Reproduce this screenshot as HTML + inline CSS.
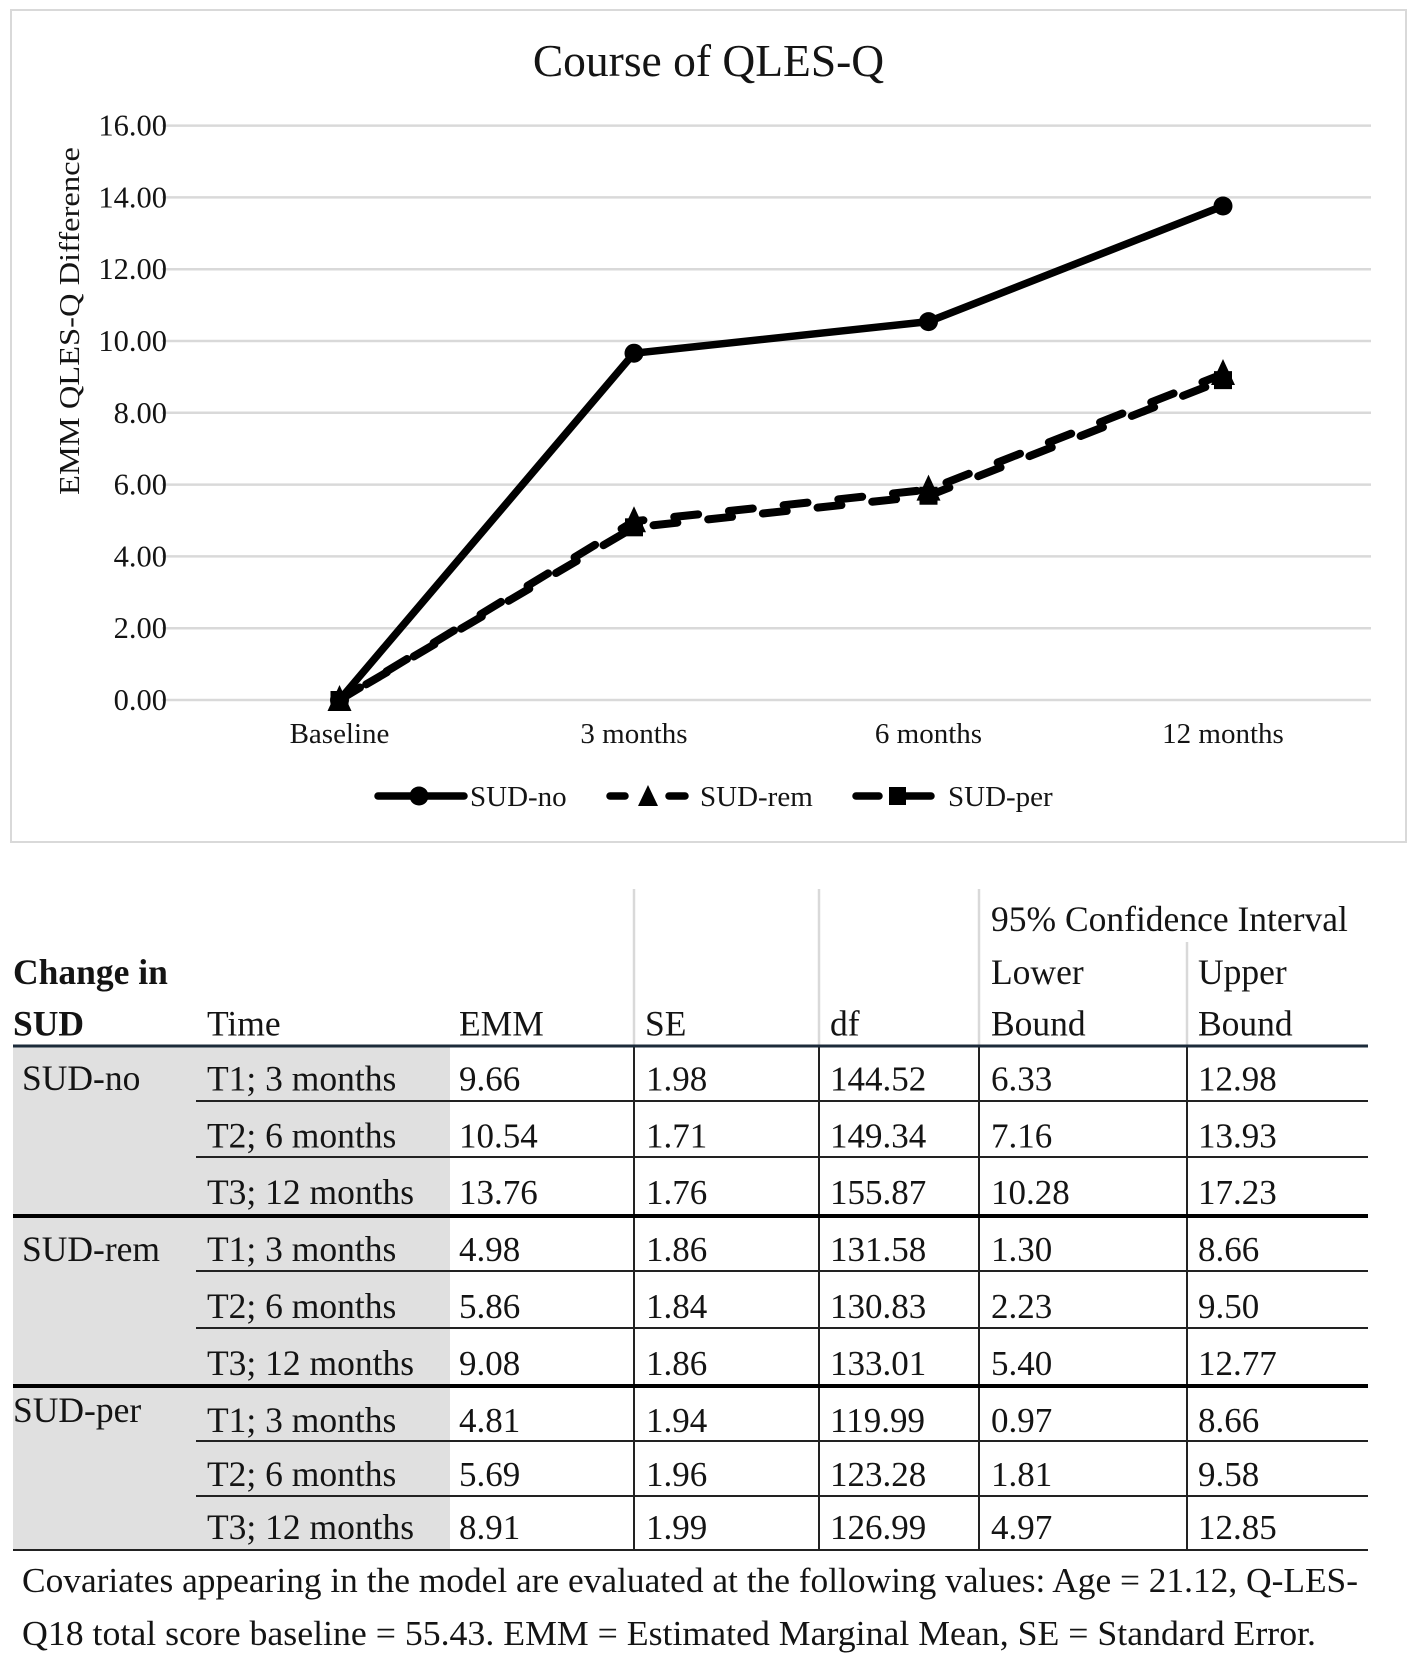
<!DOCTYPE html>
<html lang="en">
<head>
<meta charset="utf-8">
<title>Course of QLES-Q</title>
<style>
html,body{margin:0;padding:0;background:#fff;width:1417px;height:1663px;overflow:hidden}
svg{display:block}
text{font-family:"Liberation Serif","Times New Roman",serif;fill:#141414}
.tbl text{font-size:35.5px}
.tbl text.num{font-size:35px}
.tbl text.foot{font-size:34.5px}
.tick{font-size:30.5px}
.cat{font-size:29px}
.leg{font-size:29px}
</style>
</head>
<body>
<svg id="page" xmlns="http://www.w3.org/2000/svg" width="1417" height="1663" viewBox="0 0 1417 1663">
  <rect width="1417" height="1663" fill="#fff"/>
  <g id="chart">
    <rect x="11" y="10" width="1395" height="832" fill="#fff" stroke="#d9d9d9" stroke-width="2"/>
    <text x="708.5" y="76" text-anchor="middle" font-size="45.5">Course of QLES-Q</text>
    <text transform="translate(79,321) rotate(-90)" text-anchor="middle" font-size="29" textLength="348" lengthAdjust="spacingAndGlyphs">EMM QLES-Q Difference</text>
    <g id="grid"></g>
    <g id="yticks"></g>
    <g id="xticks"></g>
    <g id="series"></g>
    <g>
      <g>
        <line x1="378" y1="796" x2="464" y2="796" stroke="#000" stroke-width="7.5" stroke-linecap="round"/>
        <circle cx="419" cy="796" r="9.5" fill="#000"/>
        <text class="leg" x="470" y="806">SUD-no</text>
      </g>
      <g>
        <line x1="610" y1="796" x2="625" y2="796" stroke="#000" stroke-width="7.5" stroke-linecap="round"/>
        <line x1="669" y1="796" x2="685" y2="796" stroke="#000" stroke-width="7.5" stroke-linecap="round"/>
        <polygon points="648,785 658,806 638,806" fill="#000"/>
        <text class="leg" x="700" y="806">SUD-rem</text>
      </g>
      <g>
        <line x1="856" y1="796" x2="879" y2="796" stroke="#000" stroke-width="7.5" stroke-linecap="round"/>
        <line x1="900" y1="796" x2="931" y2="796" stroke="#000" stroke-width="7.5" stroke-linecap="round"/>
        <rect x="889" y="787" width="17" height="18" fill="#000"/>
        <text class="leg" x="948" y="806">SUD-per</text>
      </g>
    </g>
  </g>

  <g class="tbl">
    <rect x="13" y="1047" width="437" height="503" fill="#e0e0e0"/>
    <g stroke="#d9d9d9" stroke-width="2.5">
      <line x1="634" y1="889" x2="634" y2="1045"/>
      <line x1="819" y1="889" x2="819" y2="1045"/>
      <line x1="979" y1="889" x2="979" y2="1045"/>
      <line x1="1187" y1="942" x2="1187" y2="1045"/>
    </g>
    <g stroke="#222" stroke-width="2">
      <line x1="634" y1="1047" x2="634" y2="1550"/>
      <line x1="819" y1="1047" x2="819" y2="1550"/>
      <line x1="979" y1="1047" x2="979" y2="1550"/>
      <line x1="1187" y1="1047" x2="1187" y2="1550"/>
    </g>
    <g stroke="#222" stroke-width="2">
      <line x1="13" y1="1046" x2="1368" y2="1046" stroke="#1c2b3a" stroke-width="3"/>
      <line x1="196" y1="1101" x2="1368" y2="1101"/>
      <line x1="196" y1="1157" x2="1368" y2="1157"/>
      <line x1="13" y1="1216" x2="1368" y2="1216" stroke="#000" stroke-width="4"/>
      <line x1="196" y1="1271" x2="1368" y2="1271"/>
      <line x1="196" y1="1328" x2="1368" y2="1328"/>
      <line x1="13" y1="1386" x2="1368" y2="1386" stroke="#000" stroke-width="4"/>
      <line x1="196" y1="1441" x2="1368" y2="1441"/>
      <line x1="196" y1="1496" x2="1368" y2="1496"/>
      <line x1="13" y1="1550" x2="1368" y2="1550"/>
    </g>

    <g>
      <text x="991" y="931">95% Confidence Interval</text>
      <text x="13" y="984" font-weight="bold">Change in</text>
      <text x="991" y="984">Lower</text>
      <text x="1198" y="984">Upper</text>
      <text x="13" y="1035.5" font-weight="bold">SUD</text>
      <text x="207" y="1035.5">Time</text>
      <text x="459" y="1035.5">EMM</text>
      <text x="645" y="1035.5">SE</text>
      <text x="830" y="1035.5">df</text>
      <text x="991" y="1035.5">Bound</text>
      <text x="1198" y="1035.5">Bound</text>
    </g>

    <text x="22" y="1090">SUD-no</text>
    <text x="22" y="1261">SUD-rem</text>
    <text x="13" y="1422">SUD-per</text>

    <g transform="translate(0,1090.5)"><text x="207">T1; 3 months</text><text class="num" x="459">9.66</text><text class="num" x="646">1.98</text><text class="num" x="830">144.52</text><text class="num" x="991">6.33</text><text class="num" x="1198">12.98</text></g>
    <g transform="translate(0,1147.5)"><text x="207">T2; 6 months</text><text class="num" x="459">10.54</text><text class="num" x="646">1.71</text><text class="num" x="830">149.34</text><text class="num" x="991">7.16</text><text class="num" x="1198">13.93</text></g>
    <g transform="translate(0,1204)"><text x="207">T3; 12 months</text><text class="num" x="459">13.76</text><text class="num" x="646">1.76</text><text class="num" x="830">155.87</text><text class="num" x="991">10.28</text><text class="num" x="1198">17.23</text></g>
    <g transform="translate(0,1261)"><text x="207">T1; 3 months</text><text class="num" x="459">4.98</text><text class="num" x="646">1.86</text><text class="num" x="830">131.58</text><text class="num" x="991">1.30</text><text class="num" x="1198">8.66</text></g>
    <g transform="translate(0,1318)"><text x="207">T2; 6 months</text><text class="num" x="459">5.86</text><text class="num" x="646">1.84</text><text class="num" x="830">130.83</text><text class="num" x="991">2.23</text><text class="num" x="1198">9.50</text></g>
    <g transform="translate(0,1375)"><text x="207">T3; 12 months</text><text class="num" x="459">9.08</text><text class="num" x="646">1.86</text><text class="num" x="830">133.01</text><text class="num" x="991">5.40</text><text class="num" x="1198">12.77</text></g>
    <g transform="translate(0,1432)"><text x="207">T1; 3 months</text><text class="num" x="459">4.81</text><text class="num" x="646">1.94</text><text class="num" x="830">119.99</text><text class="num" x="991">0.97</text><text class="num" x="1198">8.66</text></g>
    <g transform="translate(0,1486)"><text x="207">T2; 6 months</text><text class="num" x="459">5.69</text><text class="num" x="646">1.96</text><text class="num" x="830">123.28</text><text class="num" x="991">1.81</text><text class="num" x="1198">9.58</text></g>
    <g transform="translate(0,1539)"><text x="207">T3; 12 months</text><text class="num" x="459">8.91</text><text class="num" x="646">1.99</text><text class="num" x="830">126.99</text><text class="num" x="991">4.97</text><text class="num" x="1198">12.85</text></g>

    <text class="foot" x="22" y="1592" textLength="1336" lengthAdjust="spacingAndGlyphs">Covariates appearing in the model are evaluated at the following values: Age = 21.12, Q-LES-</text>
    <text class="foot" x="22" y="1645" textLength="1294" lengthAdjust="spacingAndGlyphs">Q18 total score baseline = 55.43. EMM = Estimated Marginal Mean, SE = Standard Error.</text>
  </g>
</svg>
<script>
const categories = ["Baseline", "3 months", "6 months", "12 months"];
const yTickValues = [0, 2, 4, 6, 8, 10, 12, 14, 16];
const yTickLabels = ["0.00", "2.00", "4.00", "6.00", "8.00", "10.00", "12.00", "14.00", "16.00"];
const sudNo = [0, 9.66, 10.54, 13.76];
const sudRem = [0, 4.98, 5.86, 9.08];
const sudPer = [0, 4.81, 5.69, 8.91];

const NS = "http://www.w3.org/2000/svg";
function xPos(i) { return 339.5 + i * (1223 - 339.5) / (categories.length - 1); }
function yPos(v) { return 700 - v * (700 - 125.6) / 16; }
function make(parent, tag, attrs, text) {
  const el = document.createElementNS(NS, tag);
  for (const k in attrs) el.setAttribute(k, attrs[k]);
  if (text !== undefined) el.textContent = text;
  parent.appendChild(el);
  return el;
}

const gridG = document.getElementById("grid");
const yG = document.getElementById("yticks");
yTickValues.forEach(function (v, i) {
  const line = make(gridG, "line", { x1: 162, x2: 1371, y1: yPos(v), y2: yPos(v), stroke: "#d9d9d9", "stroke-width": 2.5 });
  
  
  const t = make(yG, "text", { x: 167, y: yPos(v) + 10, "text-anchor": "end", class: "tick" }, yTickLabels[i]);
  
  
});

const xG = document.getElementById("xticks");
categories.forEach(function (c, i) {
  const t = make(xG, "text", { x: xPos(i), y: 743, "text-anchor": "middle", class: "cat" }, c);
  
  
});

const seriesG = document.getElementById("series");
function pointsOf(values) {
  return values.map(function (v, i) { return xPos(i) + "," + yPos(v); }).join(" ");
}

const perGroup = make(seriesG, "g", {});


make(perGroup, "polyline", { points: pointsOf(sudPer), fill: "none", stroke: "#000", "stroke-width": 8, "stroke-linecap": "round", "stroke-linejoin": "round", "stroke-dasharray": "24 31", "stroke-dashoffset": 24 });
sudPer.forEach(function (v, i) {
  const m = make(perGroup, "rect", { x: xPos(i) - 9, y: yPos(v) - 9, width: 18, height: 18, fill: "#000" });
  
  
});

const remGroup = make(seriesG, "g", {});


make(remGroup, "polyline", { points: pointsOf(sudRem), fill: "none", stroke: "#000", "stroke-width": 8, "stroke-linecap": "round", "stroke-linejoin": "round", "stroke-dasharray": "24 31" });
sudRem.forEach(function (v, i) {
  const x = xPos(i), y = yPos(v);
  const m = make(remGroup, "polygon", { points: (x) + "," + (y - 15) + " " + (x + 12) + "," + (y + 11) + " " + (x - 12) + "," + (y + 11), fill: "#000" });
  
  
});

const noGroup = make(seriesG, "g", {});


make(noGroup, "polyline", { points: pointsOf(sudNo), fill: "none", stroke: "#000", "stroke-width": 7.5, "stroke-linejoin": "round" });
sudNo.forEach(function (v, i) {
  const m = make(noGroup, "circle", { cx: xPos(i), cy: yPos(v), r: 9.5, fill: "#000" });
  
  
});
</script>
</body>
</html>
